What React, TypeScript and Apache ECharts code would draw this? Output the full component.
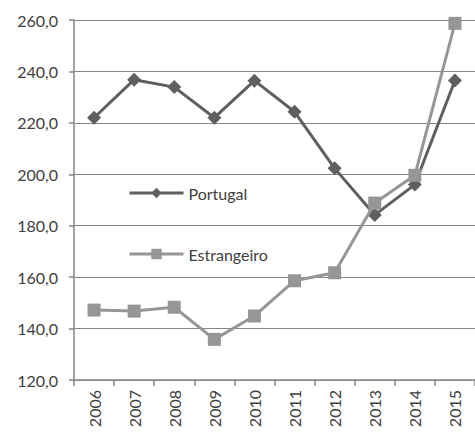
import React, { useEffect, useRef } from "react";
import * as echarts from "echarts";

const years = ["2006", "2007", "2008", "2009", "2010", "2011", "2012", "2013", "2014", "2015"];
const portugal = [222.0, 236.8, 233.9, 222.0, 236.4, 224.3, 202.3, 184.2, 196.0, 236.5];
const estrangeiro = [147.2, 146.8, 148.3, 135.8, 144.9, 158.6, 161.7, 188.8, 199.6, 258.7];
const yTicks = { min: 120, max: 260, interval: 20 };

const FONT = "Lato";

export default function App() {
  const ref = useRef<HTMLDivElement>(null);
  useEffect(() => {
    if (!ref.current) return;
    const chart = echarts.init(ref.current, undefined, { renderer: "svg" });
    chart.setOption({
      animation: false,
      backgroundColor: "#ffffff",
      textStyle: { fontFamily: FONT },
      grid: { left: 74, top: 20, width: 402, height: 360, containLabel: false },
      legend: {
        orient: "vertical",
        left: 128,
        top: 185,
        padding: 0,
        itemWidth: 54,
        itemHeight: 13,
        itemGap: 45,
        lineStyle: { width: 3 },
        textStyle: { fontFamily: FONT, fontSize: 16, color: "#404040" },
        data: ["Portugal", "Estrangeiro"],
      },
      xAxis: {
        type: "category",
        data: years,
        boundaryGap: true,
        axisLine: { lineStyle: { color: "#868686", width: 1.5 } },
        axisTick: { show: true, length: 6, lineStyle: { color: "#868686", width: 1.5 } },
        axisLabel: { rotate: 90, fontSize: 16, color: "#404040", fontFamily: FONT, margin: 10 },
      },
      yAxis: {
        type: "value",
        min: yTicks.min,
        max: yTicks.max,
        interval: yTicks.interval,
        axisLine: { show: true, lineStyle: { color: "#868686", width: 1.5 } },
        axisTick: { show: true, length: 5, lineStyle: { color: "#868686", width: 1.5 } },
        splitLine: { lineStyle: { color: "#868686", width: 1.2 } },
        axisLabel: {
          fontSize: 16,
          color: "#404040",
          fontFamily: FONT,
          margin: 16,
          formatter: (v: number) => v.toFixed(1).replace(".", ","),
        },
      },
      series: [
        {
          name: "Portugal",
          type: "line",
          data: portugal,
          symbol: "diamond",
          symbolSize: 14,
          lineStyle: { color: "#5f5f5f", width: 3 },
          itemStyle: { color: "#5f5f5f" },
          z: 3,
        },
        {
          name: "Estrangeiro",
          type: "line",
          data: estrangeiro,
          symbol: "rect",
          symbolSize: 13,
          lineStyle: { color: "#969696", width: 3 },
          itemStyle: { color: "#969696" },
          z: 4,
        },
      ],
    });
    return () => chart.dispose();
  }, []);
  return <div ref={ref} style={{ width: 475, height: 432, position: "absolute", left: 0, top: 0 }} />;
}
